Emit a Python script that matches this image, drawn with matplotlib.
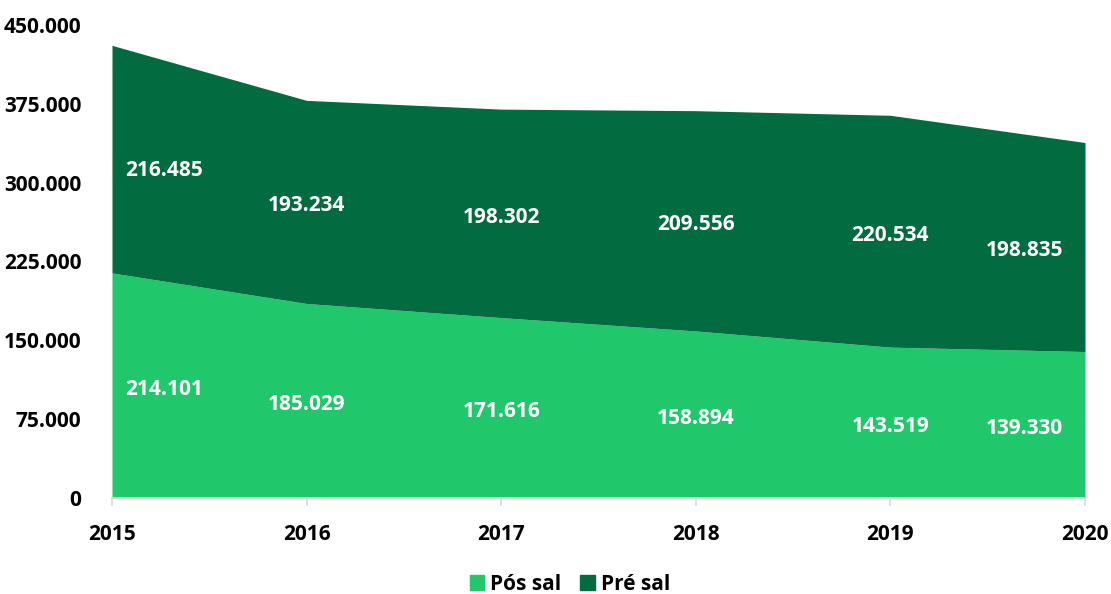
import matplotlib
matplotlib.use("Agg")
import matplotlib.pyplot as plt
import matplotlib.transforms as mtrans
import numpy as np
from matplotlib.ticker import FuncFormatter
from matplotlib.patches import Patch

years = [2015, 2016, 2017, 2018, 2019, 2020]
pos_sal = [214101, 185029, 171616, 158894, 143519, 139330]
pre_sal = [216485, 193234, 198302, 209556, 220534, 198835]
series_names = ["Pós sal", "Pré sal"]
yticks = [0, 75000, 150000, 225000, 300000, 375000, 450000]

c_pos = "#21C86B"
c_pre = "#036B40"

plt.rcParams['font.family'] = ['Open Sans', 'DejaVu Sans']
plt.rcParams['font.weight'] = 'bold'
FS = 15

fig = plt.figure(figsize=(11.11, 5.94), dpi=100)
ax = fig.add_axes([0.1008, 0.1616, 0.8758, 0.7964])

x = np.array(years, dtype=float)
p = np.array(pos_sal, dtype=float)
q = np.array(pre_sal, dtype=float)
top = p + q
ax.fill_between(x, 0, p, color=c_pos, linewidth=0)
ax.fill_between(x, p, top, color=c_pre, linewidth=0)

ax.set_xlim(x[0], x[-1])
ax.set_ylim(0, 450000)
ax.set_yticks(yticks)
ax.yaxis.set_major_formatter(FuncFormatter(lambda v, _: f"{int(v):,}".replace(",", ".")))
ax.set_xticks(years)
ax.set_xticklabels([str(y) for y in years])
ax.tick_params(axis='y', length=0, pad=22, labelsize=FS)
ax.tick_params(axis='x', length=6, width=1.2, color="#D9D9D9", pad=13, labelsize=FS)
for lbl in ax.get_xticklabels() + ax.get_yticklabels():
    lbl.set_fontweight('bold')
for s in ['top', 'right', 'left']:
    ax.spines[s].set_visible(False)
ax.spines['bottom'].set_color("#D9D9D9")
ax.spines['bottom'].set_linewidth(1.2)
ax.spines['bottom'].set_zorder(5)

def fmt(v):
    return f"{int(v):,}".replace(",", ".")

n = len(years)
for i in range(n):
    xi = x[i]
    dy = -4
    if i == 0:
        xi = x[i] + 0.27
        dy = 0
    elif i == n - 1:
        xi = x[i] - 0.31
    pb = np.interp(xi, x, p)
    tb = np.interp(xi, x, top)
    tr = mtrans.offset_copy(ax.transData, fig=fig, x=0, y=dy, units='dots')
    tr2 = mtrans.offset_copy(ax.transData, fig=fig, x=0, y=dy * (2.2 if i == n - 1 else 1), units='dots')
    ax.text(xi, pb / 2, fmt(p[i]), ha='center', va='center', color='white',
            fontsize=FS, fontweight='bold', transform=tr)
    ax.text(xi, (pb + tb) / 2, fmt(q[i]), ha='center', va='center', color='white',
            fontsize=FS, fontweight='bold', transform=tr2)

handles = [Patch(color=c_pos, label=series_names[0]), Patch(color=c_pre, label=series_names[1])]
fig.legend(handles=handles, loc='center', bbox_to_anchor=(0.513, 0.016), ncol=2, frameon=False,
           prop={'size': FS, 'weight': 'bold'}, handlelength=0.7, handleheight=0.7,
           handletextpad=0.3, columnspacing=0.9)

fig.savefig("out.png", dpi=100)
